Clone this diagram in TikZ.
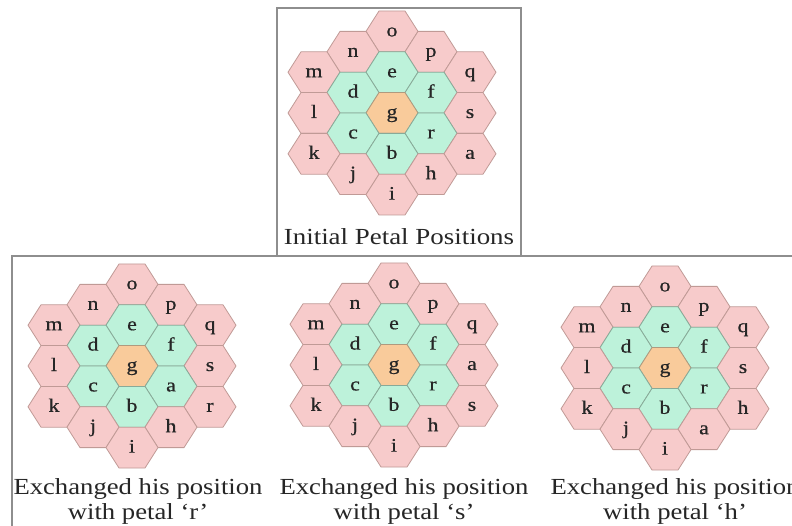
\documentclass[tikz,border=0pt]{standalone}
\usepackage{fontspec}
\setmainfont{Liberation Serif}
\newfontfamily\petalfont[FakeBold=0.6]{Liberation Serif}
\definecolor{pinkfill}{HTML}{F7CBCB}
\definecolor{greenfill}{HTML}{BDF2DA}
\definecolor{orangefill}{HTML}{F9CB9B}
\definecolor{pinkline}{HTML}{C09A96}
\definecolor{greenline}{HTML}{88AA98}
\definecolor{orangeline}{HTML}{B09A7E}
\definecolor{frameline}{HTML}{8E8E8E}
\definecolor{inkc}{HTML}{262626}
\newcommand\flowerpanel[7]{%
 \begin{scope}[shift={(#2,#3)}]
 \foreach \dx/\dy/\st/\lb/\nm in {0/-4/pinkhex/o/o, -1/-3/pinkhex/n/n, 1/-3/pinkhex/p/p, -2/-2/pinkhex/m/m, 0/-2/greenhex/e/e, 2/-2/pinkhex/q/q, -1/-1/greenhex/d/d, 1/-1/greenhex/f/f, -2/0/pinkhex/l/l, 0/0/orangehex/g/g, 2/0/pinkhex/#5/s, -1/1/greenhex/c/c, 1/1/greenhex/#4/r, -2/2/pinkhex/k/k, 0/2/greenhex/b/b, 2/2/pinkhex/#6/a, -1/3/pinkhex/j/j, 1/3/pinkhex/#7/h, 0/4/pinkhex/i/i}{
   \path[\st] (\dx*39-26,\dy*20.4) -- ++(13,-20.4) -- ++(26,0) -- ++(13,20.4) -- ++(-13,20.4) -- ++(-26,0) -- cycle;
   \node[petal] (#1-\nm) at (\dx*39,\dy*20.4+5) {\scalebox{1.15}[1]{\lb}};
 }
 \end{scope}}
\begin{document}
\begin{tikzpicture}[x=1pt,y=-1pt,
  pinkhex/.style={fill=pinkfill,draw=pinkline,line width=0.8pt,line join=round},
  greenhex/.style={fill=greenfill,draw=greenline,line width=0.8pt,line join=round},
  orangehex/.style={fill=orangefill,draw=orangeline,line width=0.8pt,line join=round},
  petal/.style={anchor=base,inner sep=0pt,text=inkc,font=\petalfont\fontsize{19}{24}\selectfont},
  caption/.style={anchor=base,inner sep=0pt,text=inkc,font=\fontsize{23}{28}\selectfont},
  frame/.style={draw=frameline,line width=1.3pt}]
\useasboundingbox (0,0) rectangle (792,526);
\fill[white] (0,0) rectangle (792,526);
% frames
\draw[frame] (277,256) -- (277,8) -- (521,8) -- (521,256);
\draw[frame] (12,526) -- (12,256) -- (792,256);
% flowers
\flowerpanel{t}{392}{113}{r}{s}{a}{h}
\flowerpanel{x}{132}{366}{a}{s}{r}{h}
\flowerpanel{y}{394}{365}{r}{a}{s}{h}
\flowerpanel{z}{665}{368}{r}{s}{h}{a}
% captions
\node[caption] (cap0) at (399,245) {\scalebox{1.17}[1]{Initial Petal Positions}};
\node[caption] (cap1a) at (138,494) {\scalebox{1.16}[1]{Exchanged his position}};
\node[caption] (cap1b) at (138,519) {\scalebox{1.16}[1]{with petal ‘r’}};
\node[caption] (cap2a) at (404,494) {\scalebox{1.16}[1]{Exchanged his position}};
\node[caption] (cap2b) at (404,519) {\scalebox{1.16}[1]{with petal ‘s’}};
\node[caption] (cap3a) at (675,494) {\scalebox{1.16}[1]{Exchanged his position}};
\node[caption] (cap3b) at (675,519) {\scalebox{1.16}[1]{with petal ‘h’}};
\end{tikzpicture}
\end{document}
